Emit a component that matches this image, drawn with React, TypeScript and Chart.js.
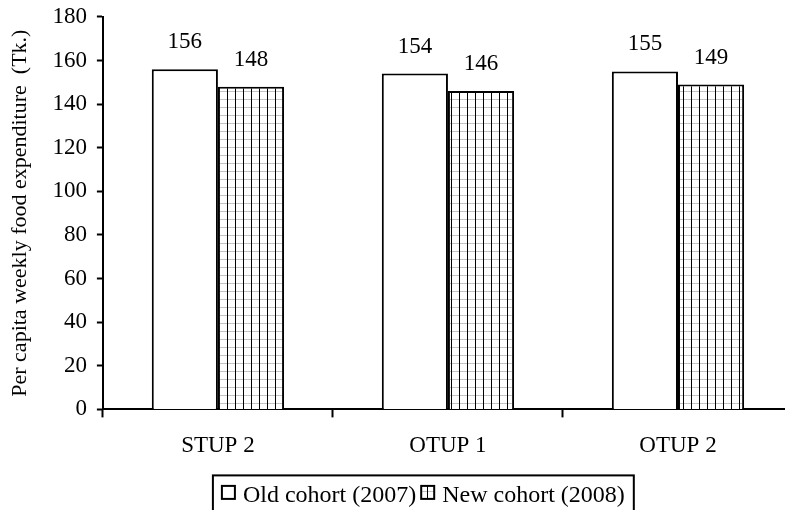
import React, { useEffect, useRef } from "react";
import { Chart, registerables } from "chart.js";

Chart.register(...registerables);

// Per capita weekly food expenditure by programme group
const categories = ["STUP 2", "OTUP 1", "OTUP 2"];
const oldCohort = [156, 154, 155];
const newCohort = [148, 146, 149];
const seriesLabels = ["Old cohort (2007)", "New cohort (2008)"];
const yMin = 0;
const yMax = 180;
const yStep = 20;
const yTitle = "Per capita weekly food expenditure  (Tk.)";

const FONT = "'Liberation Serif', 'Times New Roman', serif";

function makeHatch(): CanvasPattern | string {
  const c = document.createElement("canvas");
  c.width = 8;
  c.height = 8;
  const g = c.getContext("2d");
  if (!g) return "#fff";
  g.fillStyle = "#fff";
  g.fillRect(0, 0, 8, 8);
  g.fillStyle = "#c4c4c4";
  g.fillRect(0, 3, 8, 1);
  g.fillStyle = "#000";
  g.fillRect(3, 0, 1, 8);
  const p = g.createPattern(c, "repeat");
  return p || "#fff";
}

// Value labels above every bar
const valueLabels = {
  id: "valueLabels",
  afterDatasetsDraw(chart: any) {
    const ctx = chart.ctx;
    ctx.save();
    ctx.font = `23px ${FONT}`;
    ctx.fillStyle = "#000";
    ctx.textAlign = "center";
    ctx.textBaseline = "middle";
    chart.data.datasets.forEach((ds: any, i: number) => {
      const meta = chart.getDatasetMeta(i);
      meta.data.forEach((bar: any, j: number) => {
        ctx.fillText(String(ds.data[j]), bar.x, bar.y - 27);
      });
    });
    ctx.restore();
  },
};

// Boxed legend beneath the axis
const boxedLegend = {
  id: "boxedLegend",
  afterDraw(chart: any) {
    const ctx = chart.ctx;
    const area = chart.chartArea;
    ctx.save();
    ctx.font = `24px ${FONT}`;
    ctx.textBaseline = "middle";
    ctx.textAlign = "left";
    const sw = 13;
    const gap = 8;
    const spacing = 5;
    const padX = 9;
    const items = chart.data.datasets.map((ds: any) => ({
      label: ds.label,
      fill: ds.backgroundColor,
      w: sw + gap + ctx.measureText(ds.label).width,
    }));
    const total =
      items.reduce((s: number, it: any) => s + it.w, 0) +
      spacing * (items.length - 1) +
      padX * 2;
    const left = area.left + 110;
    const top = area.bottom + 66;
    const h = 44;
    ctx.fillStyle = "#fff";
    ctx.fillRect(left, top, total, h);
    ctx.lineWidth = 2;
    ctx.strokeStyle = "#000";
    ctx.strokeRect(left, top, total, h);
    let x = left + padX;
    const cy = top + 17;
    items.forEach((it: any) => {
      ctx.fillStyle = it.fill;
      ctx.fillRect(x, cy - sw / 2, sw, sw);
      ctx.lineWidth = 2;
      ctx.strokeRect(x, cy - sw / 2, sw, sw);
      ctx.fillStyle = "#000";
      ctx.fillText(it.label, x + sw + gap, cy + 3);
      x += it.w + spacing;
    });
    ctx.restore();
  },
};

export default function App() {
  const ref = useRef<HTMLCanvasElement | null>(null);

  useEffect(() => {
    if (!ref.current) return;
    const hatch = makeHatch();
    const chart = new Chart(ref.current, {
      type: "bar",
      data: {
        labels: categories,
        datasets: [
          {
            label: seriesLabels[0],
            data: oldCohort,
            backgroundColor: "#fff",
            borderColor: "#000",
            borderWidth: 2,
          },
          {
            label: seriesLabels[1],
            data: newCohort,
            backgroundColor: hatch as any,
            borderColor: "#000",
            borderWidth: 2,
          },
        ],
      },
      options: {
        responsive: false,
        animation: false,
        layout: { padding: { top: 0, right: 17, bottom: 35, left: 7 } },
        datasets: {
          bar: { categoryPercentage: 0.575, barPercentage: 1.0 },
        },
        plugins: {
          legend: { display: false },
          tooltip: { enabled: false },
        },
        scales: {
          x: {
            grid: {
              display: true,
              drawOnChartArea: false,
              drawTicks: true,
              tickLength: 8,
              tickWidth: 2,
              color: "#000",
              offset: true,
            },
            border: { display: true, color: "#000", width: 2 },
            ticks: {
              color: "#000",
              font: { family: FONT, size: 23 },
              padding: 15,
            },
          },
          y: {
            min: yMin,
            max: yMax,
            grid: {
              display: true,
              drawOnChartArea: false,
              drawTicks: true,
              tickLength: 6,
              tickWidth: 2,
              color: "#000",
            },
            border: { display: true, color: "#000", width: 2 },
            ticks: {
              stepSize: yStep,
              color: "#000",
              font: { family: FONT, size: 23, lineHeight: 0.6 },
              padding: 10,
            },
            title: {
              display: true,
              text: yTitle,
              color: "#000",
              font: { family: FONT, size: 22 },
              padding: { top: 0, bottom: 9 },
            },
          },
        },
      },
      plugins: [valueLabels, boxedLegend],
    });
    return () => chart.destroy();
  }, []);

  return (
    <div
      style={{
        position: "fixed",
        left: 0,
        top: 0,
        width: 785,
        height: 510,
        overflow: "hidden",
        background: "#fff",
      }}
    >
      <canvas ref={ref} width={810} height={510} style={{ width: 810, height: 510, display: "block" }} />
    </div>
  );
}
